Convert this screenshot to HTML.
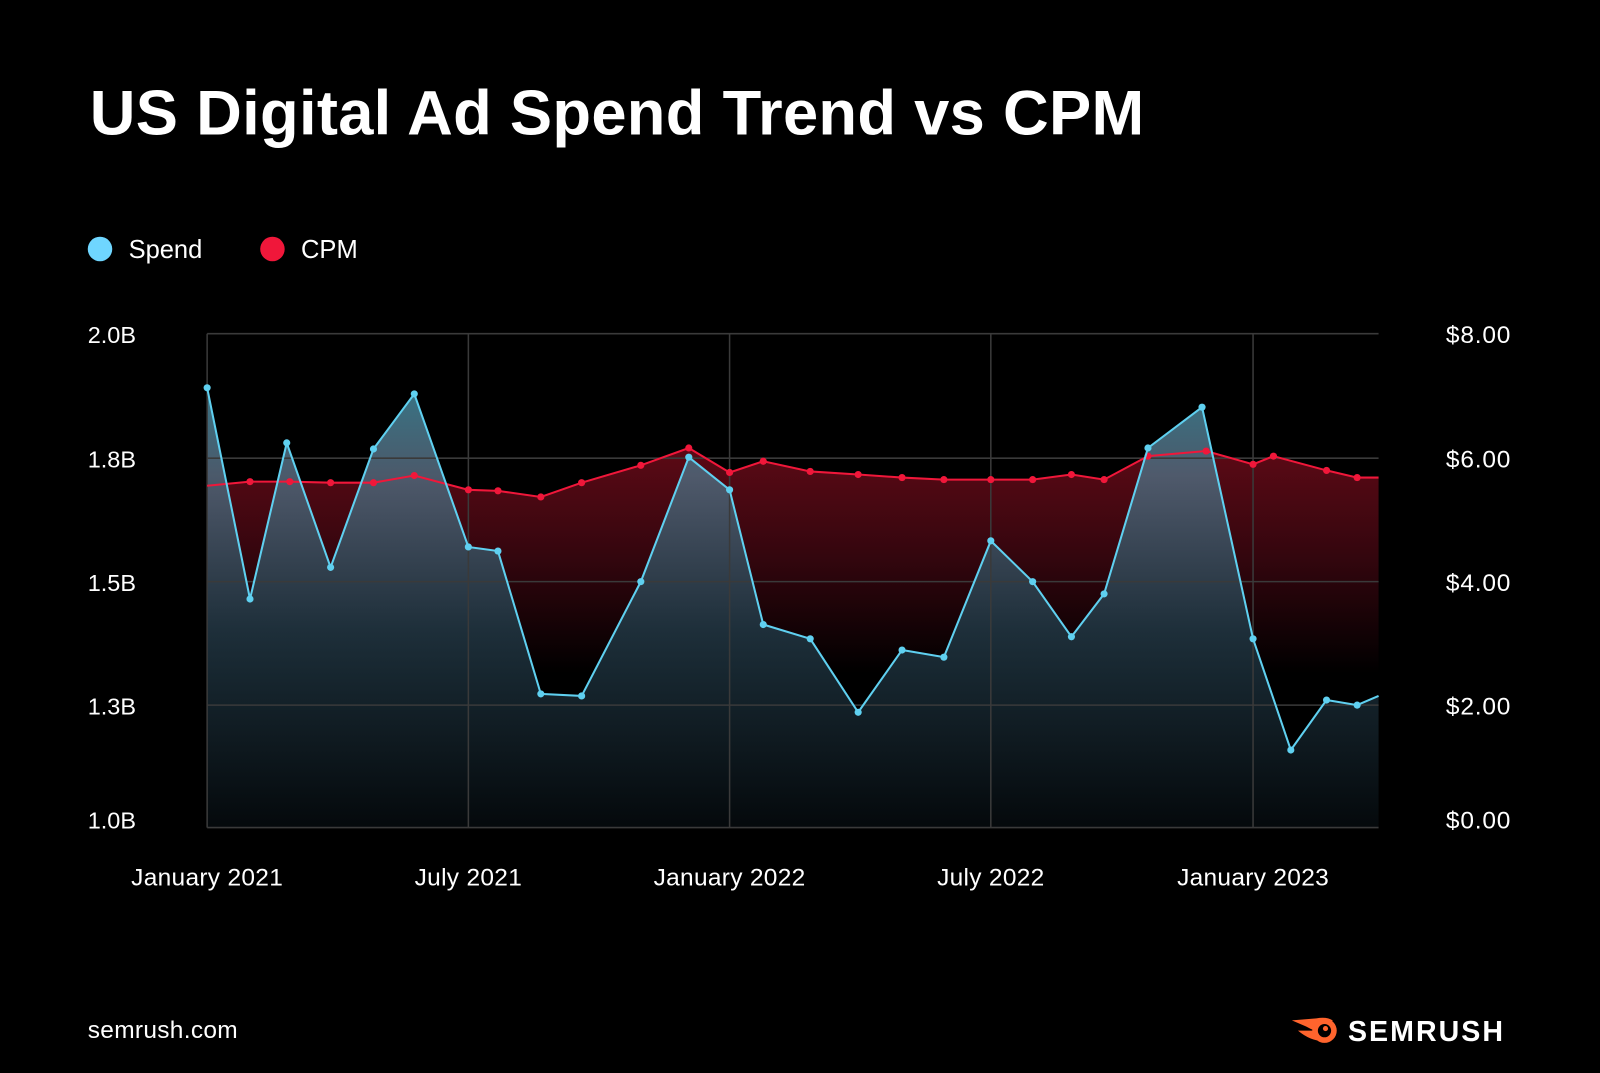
<!DOCTYPE html>
<html><head><style>html,body{margin:0;padding:0;background:#000}svg{display:block}text{font-family:"Liberation Sans",sans-serif;fill:#fff}</style></head><body>
<svg width="1600" height="1073" viewBox="0 0 1568 1051.5" xmlns="http://www.w3.org/2000/svg">
<defs>
<linearGradient id="gr" x1="0" y1="430" x2="0" y2="660" gradientUnits="userSpaceOnUse"><stop offset="0" stop-color="#600a16"/><stop offset="0.5" stop-color="#34060e"/><stop offset="1" stop-color="#000"/></linearGradient>
<linearGradient id="gb" x1="0" y1="380" x2="0" y2="811" gradientUnits="userSpaceOnUse"><stop offset="0" stop-color="#3b7a8c" stop-opacity="0.95"/><stop offset="0.2" stop-color="#4f5e70" stop-opacity="0.95"/><stop offset="0.55" stop-color="#1f3440" stop-opacity="0.9"/><stop offset="1" stop-color="#050a0d" stop-opacity="0.9"/></linearGradient>
</defs>
<rect width="1568" height="1052" fill="#000"/>
<text x="88" y="132" font-size="62" font-weight="bold" letter-spacing="0.3">US Digital Ad Spend Trend vs CPM</text>
<circle cx="98" cy="244" r="12" fill="#6fd6ff"/><text x="126" y="253" font-size="25">Spend</text>
<circle cx="267" cy="244" r="12" fill="#f0173a"/><text x="295" y="253" font-size="25">CPM</text>
<path d="M203,476 L245,472 284,472 324,473 366,473 406,466 459,480 488,481 530,487 570,473 628,456 675,439 715,463 748,452 794,462 841,465 884,468 925,470 971,470 1012,470 1050,465 1082,470 1125,447 1182,442 1228,455 1248,447 1300,461 1330,468 1351,468 L1351,811 L203,811Z" fill="url(#gr)"/>
<path d="M203,380 L245,587 281,434 324,556 366,440 406,386 459,536 488,540 530,680 570,682 628,570 675,448 715,480 748,612 794,626 841,698 884,637 925,644 971,530 1012,570 1050,624 1082,582 1125,439 1178,399 1228,626 1265,735 1300,686 1330,691 1351,682 L1351,811 L203,811Z" fill="url(#gb)"/>
<g stroke="#3a3a3a" stroke-width="1.5" fill="none">
<line x1="203" y1="327" x2="1351" y2="327"/><line x1="203" y1="449" x2="1351" y2="449"/><line x1="203" y1="570" x2="1351" y2="570"/><line x1="203" y1="691" x2="1351" y2="691"/><line x1="203" y1="811" x2="1351" y2="811"/>
<line x1="203" y1="327" x2="203" y2="811"/><line x1="459" y1="327" x2="459" y2="811"/><line x1="715" y1="327" x2="715" y2="811"/><line x1="971" y1="327" x2="971" y2="811"/><line x1="1228" y1="327" x2="1228" y2="811"/>
</g>
<polyline fill="none" stroke="#f0173a" stroke-width="2" points="203,476 245,472 284,472 324,473 366,473 406,466 459,480 488,481 530,487 570,473 628,456 675,439 715,463 748,452 794,462 841,465 884,468 925,470 971,470 1012,470 1050,465 1082,470 1125,447 1182,442 1228,455 1248,447 1300,461 1330,468 1351,468"/>
<g fill="#f0173a"><circle cx="245" cy="472" r="3.5"/><circle cx="284" cy="472" r="3.5"/><circle cx="324" cy="473" r="3.5"/><circle cx="366" cy="473" r="3.5"/><circle cx="406" cy="466" r="3.5"/><circle cx="459" cy="480" r="3.5"/><circle cx="488" cy="481" r="3.5"/><circle cx="530" cy="487" r="3.5"/><circle cx="570" cy="473" r="3.5"/><circle cx="628" cy="456" r="3.5"/><circle cx="675" cy="439" r="3.5"/><circle cx="715" cy="463" r="3.5"/><circle cx="748" cy="452" r="3.5"/><circle cx="794" cy="462" r="3.5"/><circle cx="841" cy="465" r="3.5"/><circle cx="884" cy="468" r="3.5"/><circle cx="925" cy="470" r="3.5"/><circle cx="971" cy="470" r="3.5"/><circle cx="1012" cy="470" r="3.5"/><circle cx="1050" cy="465" r="3.5"/><circle cx="1082" cy="470" r="3.5"/><circle cx="1125" cy="447" r="3.5"/><circle cx="1182" cy="442" r="3.5"/><circle cx="1228" cy="455" r="3.5"/><circle cx="1248" cy="447" r="3.5"/><circle cx="1300" cy="461" r="3.5"/><circle cx="1330" cy="468" r="3.5"/></g>
<polyline fill="none" stroke="#5fd0f0" stroke-width="2" points="203,380 245,587 281,434 324,556 366,440 406,386 459,536 488,540 530,680 570,682 628,570 675,448 715,480 748,612 794,626 841,698 884,637 925,644 971,530 1012,570 1050,624 1082,582 1125,439 1178,399 1228,626 1265,735 1300,686 1330,691 1351,682"/>
<g fill="#5fd0f0"><circle cx="203" cy="380" r="3.5"/><circle cx="245" cy="587" r="3.5"/><circle cx="281" cy="434" r="3.5"/><circle cx="324" cy="556" r="3.5"/><circle cx="366" cy="440" r="3.5"/><circle cx="406" cy="386" r="3.5"/><circle cx="459" cy="536" r="3.5"/><circle cx="488" cy="540" r="3.5"/><circle cx="530" cy="680" r="3.5"/><circle cx="570" cy="682" r="3.5"/><circle cx="628" cy="570" r="3.5"/><circle cx="675" cy="448" r="3.5"/><circle cx="715" cy="480" r="3.5"/><circle cx="748" cy="612" r="3.5"/><circle cx="794" cy="626" r="3.5"/><circle cx="841" cy="698" r="3.5"/><circle cx="884" cy="637" r="3.5"/><circle cx="925" cy="644" r="3.5"/><circle cx="971" cy="530" r="3.5"/><circle cx="1012" cy="570" r="3.5"/><circle cx="1050" cy="624" r="3.5"/><circle cx="1082" cy="582" r="3.5"/><circle cx="1125" cy="439" r="3.5"/><circle cx="1178" cy="399" r="3.5"/><circle cx="1228" cy="626" r="3.5"/><circle cx="1265" cy="735" r="3.5"/><circle cx="1300" cy="686" r="3.5"/><circle cx="1330" cy="691" r="3.5"/></g>
<g font-size="23"><text x="86" y="336">2.0B</text><text x="86" y="458">1.8B</text><text x="86" y="579">1.5B</text><text x="86" y="700">1.3B</text><text x="86" y="812">1.0B</text></g>
<g font-size="24" text-anchor="end" letter-spacing="0.8"><text x="1481" y="336">$8.00</text><text x="1481" y="458">$6.00</text><text x="1481" y="579">$4.00</text><text x="1481" y="700">$2.00</text><text x="1481" y="812">$0.00</text></g>
<g font-size="24" text-anchor="middle" letter-spacing="0.3"><text x="203" y="868">January 2021</text><text x="459" y="868">July 2021</text><text x="715" y="868">January 2022</text><text x="971" y="868">July 2022</text><text x="1228" y="868">January 2023</text></g>
<text x="86" y="1017" font-size="24" letter-spacing="0.3">semrush.com</text>
<g fill="#ff642d"><path d="M1266,1000 L1290,998 Q1300,996 1306,1000 L1300,1012 Q1290,1012 1280,1006 Z"/><path d="M1272,1010 L1290,1010 L1296,1020 Q1284,1020 1272,1010Z"/><circle cx="1298" cy="1010" r="12"/></g>
<circle cx="1298" cy="1010" r="6.5" fill="#000"/><circle cx="1299" cy="1008" r="2.5" fill="#ff642d"/>
<text x="1321" y="1020" font-size="28" font-weight="bold" letter-spacing="2">SEMRUSH</text>
</svg>
</body></html>
